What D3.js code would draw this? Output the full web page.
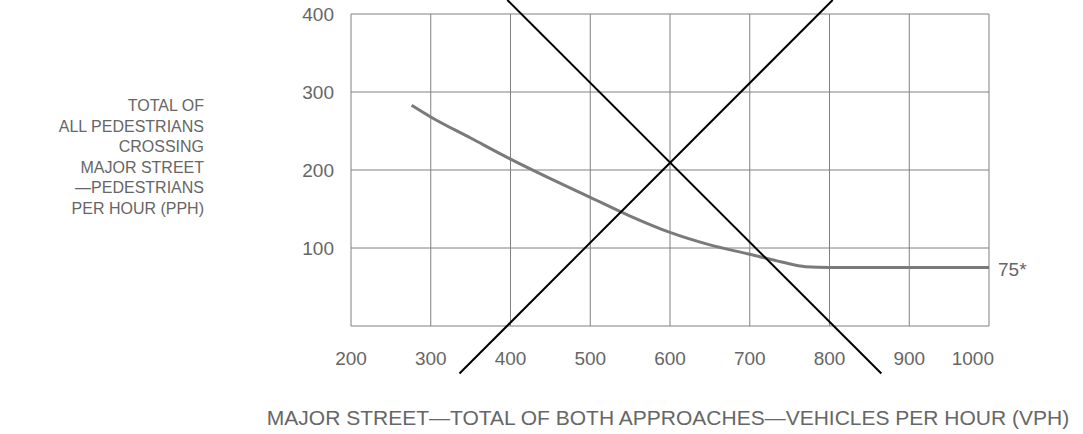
<!DOCTYPE html>
<html>
<head>
<meta charset="utf-8">
<script src="https://cdn.jsdelivr.net/npm/d3@7"></script>
<style>
  body { margin: 0; background: #fff; }
  text { font-family: "Liberation Sans", Arial, sans-serif; fill: #666; }
</style>
</head>
<body>
<div id="chart"></div>
<script>
// datos del grafico
const xTicks = [200, 300, 400, 500, 600, 700, 800, 900, 1000];
const yTicks = [100, 200, 300, 400];
const yGrid = [0, 100, 200, 300, 400];

// curva de peatones (vph, pph)
const curveVph = [276, 300, 350, 400, 450, 500, 550, 600, 650, 700, 740, 770, 800, 900, 1000];
const curvePph = [283, 268, 241, 214, 189, 165, 141, 120, 104, 92, 82, 76, 75, 75, 75];

// las dos lineas de la cruz
const crossA = [[396, 418], [865, -61]];
const crossB = [[804, 418], [336, -61]];

const yTitle = ["TOTAL OF", "ALL PEDESTRIANS", "CROSSING", "MAJOR STREET", "\u2014PEDESTRIANS", "PER HOUR (PPH)"];
const xTitle = "MAJOR STREET\u2014TOTAL OF BOTH APPROACHES\u2014VEHICLES PER HOUR (VPH)";

const svg = d3.select("#chart").append("svg");
svg.attr("width", 1083).attr("height", 434);

const x = d3.scaleLinear().domain([200, 1000]).range([351, 989]);
const y = d3.scaleLinear().domain([0, 400]).range([326, 14]);

// rejilla
svg.selectAll(".vgrid")
    .data(xTicks)
    .join("line")
    .attr("x1", d => x(d)).attr("x2", d => x(d))
    .attr("y1", y(0)).attr("y2", y(400))
    .attr("stroke", "#808080")
    .attr("stroke-width", 1);

svg.selectAll(".hgrid")
    .data(yGrid)
    .join("line")
    .attr("x1", x(200)).attr("x2", x(1000))
    .attr("y1", d => y(d)).attr("y2", d => y(d))
    .attr("stroke", "#808080")
    .attr("stroke-width", 1);

// etiquetas de los ejes
svg.selectAll(".xlab")
    .data(xTicks)
    .join("text")
    .attr("x", d => d == 1000 ? x(d) + 5 : x(d))
    .attr("y", 365)
    .attr("text-anchor", d => d == 1000 ? "end" : "middle")
    .style("font-size", "19px")
    .text(d => d);

svg.selectAll(".ylab")
    .data(yTicks)
    .join("text")
    .attr("x", 334)
    .attr("y", d => y(d) + 7)
    .attr("text-anchor", "end")
    .style("font-size", "19px")
    .text(d => d);

// curva
const pts = curveVph.map((v, i) => [v, curvePph[i]]);
const line = d3.line().x(d => x(d[0])).y(d => y(d[1])).curve(d3.curveMonotoneX);

svg.append("path")
    .attr("d", line(pts))
    .attr("fill", "none")
    .attr("stroke", "#7a7a7a")
    .attr("stroke-width", 3);

svg.append("text")
    .attr("x", x(1000) + 9)
    .attr("y", y(75) + 8)
    .style("font-size", "19px")
    .text("75*");

// cruz
const straight = d3.line().x(d => x(d[0])).y(d => y(d[1]));
[crossA, crossB].forEach(c => {
    svg.append("path")
        .attr("d", straight(c))
        .attr("stroke", "#000")
        .attr("stroke-width", 2);
});

// titulos
svg.append("text")
    .attr("text-anchor", "end")
    .style("font-size", "16px")
    .selectAll("tspan")
    .data(yTitle)
    .join("tspan")
    .attr("x", 204)
    .attr("y", (_, i) => 111 + i * 20.5)
    .text(d => d);

svg.append("text")
    .attr("x", 668)
    .attr("y", 425)
    .attr("text-anchor", "middle")
    .style("font-size", "21px")
    .text(xTitle);
</script>
</body>
</html>
